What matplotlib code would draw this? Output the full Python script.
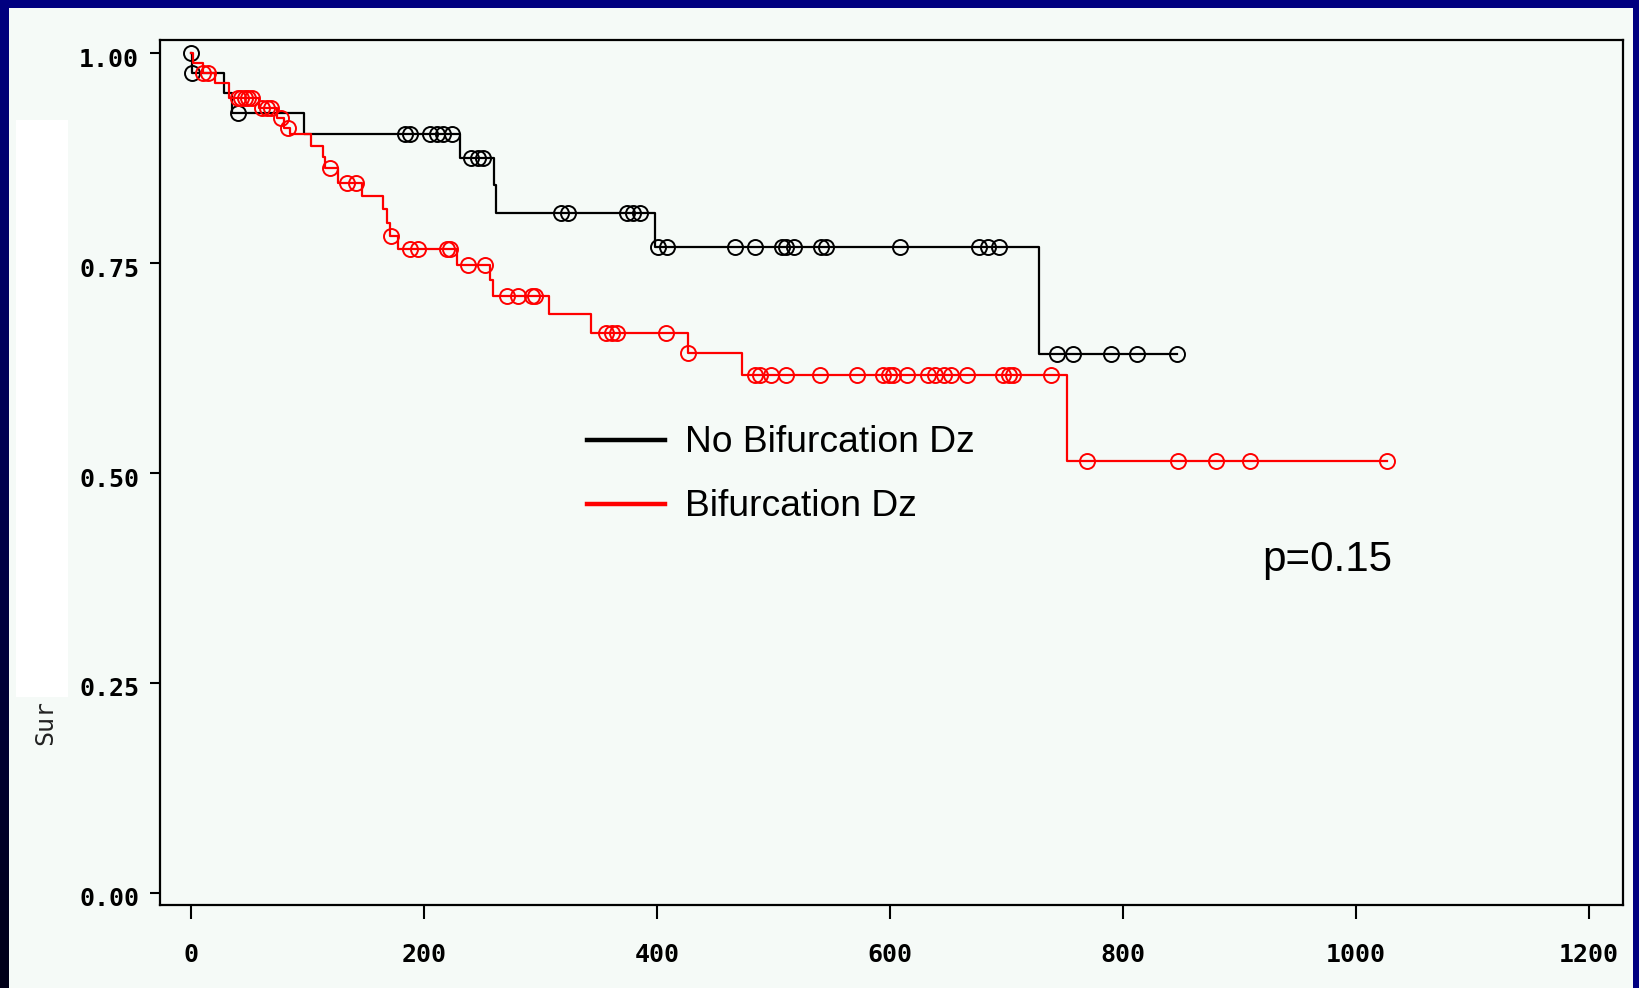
import numpy as np
import matplotlib
matplotlib.use('Agg')
from matplotlib import pyplot as plt
from matplotlib.lines import Line2D
from matplotlib.patches import Rectangle
from matplotlib.transforms import ScaledTranslation

W, H = 1639, 988

# Kaplan-Meier steps: time of each drop and survival after it
nobif_t = [0, 1, 28, 35, 97, 231, 260, 262, 398, 728]
nobif_s = [1.0, 0.976, 0.952, 0.929, 0.904, 0.875, 0.843, 0.809, 0.769, 0.642]
nobif_end = 846
nobif_cens = [0, 1, 40, 184, 188, 205, 211, 216, 224, 240, 246, 251, 318, 324,
              374, 379, 385, 401, 409, 467, 484, 507, 511, 518, 541, 545, 609,
              676, 684, 694, 743, 757, 790, 812, 846]

bif_t = [0, 2, 10, 21, 33, 58, 74, 80, 85, 103, 113, 115, 126, 147, 165, 168,
         171, 178, 228, 257, 259, 307, 343, 427, 473, 752]
bif_s = [1.0, 0.988, 0.976, 0.964, 0.946, 0.935, 0.923, 0.911, 0.904, 0.889,
         0.876, 0.863, 0.845, 0.830, 0.814, 0.798, 0.782, 0.767, 0.748, 0.730,
         0.711, 0.689, 0.667, 0.643, 0.617, 0.514]
bif_end = 1027
bif_cens = [10, 15, 40, 43, 46, 49, 52, 61, 65, 69, 77, 83, 119, 134, 142, 172,
            188, 195, 220, 222, 238, 252, 271, 281, 293, 295, 356, 361, 366,
            408, 427, 484, 488, 498, 511, 540, 572, 594, 599, 603, 615, 633,
            639, 646, 652, 666, 697, 702, 706, 738, 769, 847, 880, 909, 1027]

xticks = [0, 200, 400, 600, 800, 1000, 1200]
yticks = [0.0, 0.25, 0.5, 0.75, 1.0]
labels = ['No Bifurcation Dz', 'Bifurcation Dz']
p_text = 'p=0.15'


def surv_at(t_ev, s_ev, t):
    idx = np.searchsorted(t_ev, t, side='right') - 1
    return np.asarray(s_ev)[idx]


def fx(px):
    return px / W


def fy(py):
    return 1 - py / H


fig = plt.figure(figsize=(W / 100, H / 100), dpi=100, facecolor='#000080')

# light panel and dark left edge
panel = '#f5faf7'
fig.patches.append(Rectangle((fx(9), 0), fx(1633 - 9), fy(8), transform=fig.transFigure,
                             facecolor=panel, edgecolor='none', zorder=-2))
edge = fig.add_axes([0, 0, fx(9), 1])
grad = np.linspace(0, 1, 256).reshape(-1, 1)
edge.imshow(grad, aspect='auto', extent=[0, 1, 0, 1],
            cmap=matplotlib.colors.LinearSegmentedColormap.from_list('e', ['#000080', '#000018']))
edge.axis('off')
fig.patches.append(Rectangle((fx(16), fy(697)), fx(52), fy(120) - fy(697),
                             transform=fig.transFigure, facecolor='white',
                             edgecolor='none', zorder=-1))

ax = fig.add_axes([fx(160), fy(905), fx(1623 - 160), fy(40) - fy(905)])
ax.set_facecolor(panel)
ax.set_xlim(-26.6, 1229.2)
ax.set_ylim(-0.0143, 1.0155)

for t_ev, s_ev, t_end, cens, col in [(nobif_t, nobif_s, nobif_end, nobif_cens, 'black'),
                                      (bif_t, bif_s, bif_end, bif_cens, 'red')]:
    xs = list(t_ev) + [t_end]
    ys = list(s_ev) + [s_ev[-1]]
    ax.step(xs, ys, where='post', color=col, lw=1.6)
    ax.plot(cens, surv_at(t_ev, s_ev, cens), 'o', ms=10.8, mfc='none',
            mec=col, mew=1.4)

for sp in ax.spines.values():
    sp.set_linewidth(1.6)
ax.set_xticks(xticks)
ax.set_xticklabels([str(v) for v in xticks])
ax.set_yticks(yticks)
ax.set_yticklabels(['%.2f' % v for v in yticks])
ax.tick_params(axis='x', length=10, width=1.5, pad=17)
ax.tick_params(axis='y', length=7, width=1.5, pad=8)
for lab in ax.get_xticklabels() + ax.get_yticklabels():
    lab.set_fontfamily('DejaVu Sans Mono')
    lab.set_fontweight('bold')
    lab.set_fontsize(18)
down = ScaledTranslation(0, -4 / 100, fig.dpi_scale_trans)
for lab in ax.get_yticklabels():
    lab.set_transform(lab.get_transform() + down)

fig.text(fx(45), fy(745), 'Sur', rotation=90, ha='center', va='bottom',
         family='DejaVu Sans Mono', fontsize=18, color='#222222')

# legend
for py, col, lab in [(440, 'black', labels[0]), (504, 'red', labels[1])]:
    fig.add_artist(Line2D([fx(587), fx(665)], [fy(py), fy(py)], color=col, lw=3.2,
                          transform=fig.transFigure))
    fig.text(fx(685), fy(py + 2), lab, ha='left', va='center',
             family='Liberation Sans', fontsize=26.8, color='black')

fig.text(fx(1262), fy(560), p_text, ha='left', va='center',
         family='Liberation Sans', fontsize=30.3, color='black')

fig.savefig('out.png', dpi=100, facecolor=fig.get_facecolor())
